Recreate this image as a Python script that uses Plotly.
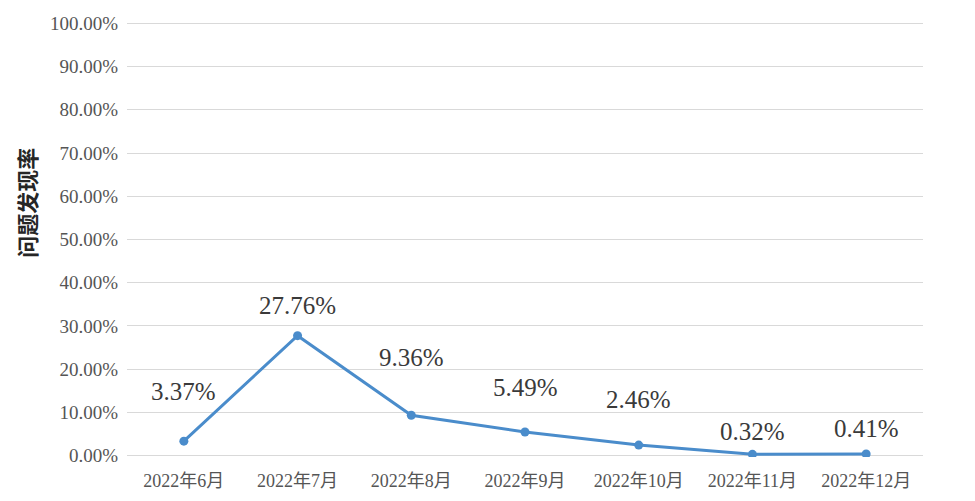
import plotly.graph_objects as go

months = ["2022年6月", "2022年7月", "2022年8月", "2022年9月", "2022年10月", "2022年11月", "2022年12月"]
rates = [3.37, 27.76, 9.36, 5.49, 2.46, 0.32, 0.41]
y_ticks = [0, 10, 20, 30, 40, 50, 60, 70, 80, 90, 100]
y_tick_text = [f"{v:.2f}%" for v in y_ticks]
label_shift = [50, 30, 58, 44, 46, 23, 25]

serif = "Liberation Serif, Times New Roman, Noto Sans CJK SC, serif"

fig = go.Figure()
fig.add_trace(go.Scatter(
    x=months, y=rates, mode="lines+markers",
    line=dict(color="#4a8ccb", width=3),
    marker=dict(color="#4a8ccb", size=9),
    hoverinfo="skip", showlegend=False,
))

for m, r, s in zip(months, rates, label_shift):
    fig.add_annotation(x=m, y=r, text=f"{r:.2f}%", showarrow=False,
                       yshift=s, font=dict(family=serif, size=25, color="#3a3a3a"))

fig.add_annotation(xref="paper", yref="paper", x=-0.127, y=0.584,
                   text="<b>问题发现率</b>", textangle=-90, showarrow=False,
                   font=dict(family="Noto Sans CJK SC", size=22, color="#262626"),
                   xanchor="center", yanchor="middle", borderpad=0)

fig.update_layout(
    width=959, height=485,
    margin=dict(l=119, r=44, t=14, b=36, autoexpand=False),
    paper_bgcolor="white", plot_bgcolor="white",
    xaxis=dict(range=[-0.5, 6.5], showgrid=False, showline=False, zeroline=False, ticks="",
               ticklabelstandoff=11, automargin=False,
               tickfont=dict(family=serif, size=18, color="#555555")),
    yaxis=dict(range=[-0.3, 100.3], tickvals=y_ticks, ticktext=y_tick_text,
               showgrid=True, gridcolor="#d9d9d9", gridwidth=1.3, zeroline=False,
               ticks="", ticklabelstandoff=8, automargin=False,
               tickfont=dict(family=serif, size=19, color="#555555")),
)

fig.write_html("out.html")
